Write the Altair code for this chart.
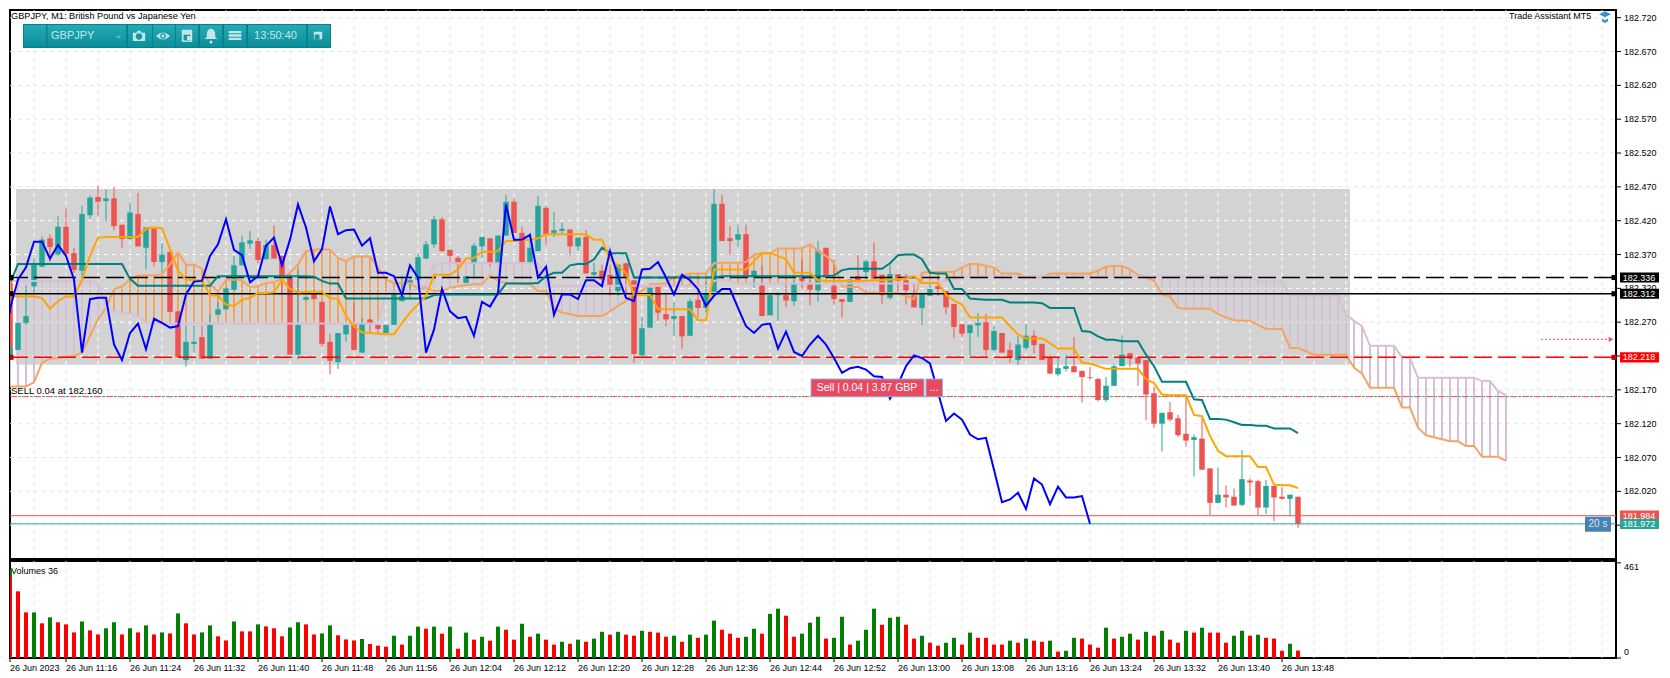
import altair as alt
import pandas as pd

# Prices are kept as points (thousandths) above 182.000
opens = [328,218,229,269,323,352,394,370,411,372,
346,428,455,449,453,414,393,430,380,410,
359,374,286,214,238,248,216,281,289,318,
354,386,390,363,384,368,336,222,303,313,
300,241,211,252,267,225,274,266,254,266,
301,328,333,364,385,422,377,365,328,357,
382,394,357,398,448,402,359,375,439,402,
405,407,382,396,340,346,340,316,357,332,
221,262,323,282,275,279,250,303,291,315,
445,394,392,400,338,324,280,310,310,301,
336,326,317,380,324,304,300,338,344,360,
340,306,341,332,310,291,309,323,316,297,
267,254,265,270,229,254,229,214,232,250,
238,218,193,201,205,198,189,186,155,176,
205,224,218,214,165,120,137,128,105,96,
98,54,3,15,12,0,36,35,-4,28,
12,9,12]
highs = [335,232,269,324,365,397,400,427,438,380,
442,457,472,466,470,414,447,461,410,410,
387,374,286,265,265,265,282,300,321,368,
398,405,395,392,413,368,338,348,308,318,
300,253,254,266,299,276,274,266,266,318,
339,338,372,390,427,425,377,368,338,387,
396,394,398,458,452,411,402,456,441,433,
417,407,395,406,358,355,355,355,357,332,
278,321,323,311,299,279,305,318,329,467,
458,412,414,414,346,353,310,314,328,332,
363,333,390,380,363,304,333,370,363,388,
340,355,341,341,326,311,326,338,316,297,
267,266,283,282,264,254,240,250,267,258,
238,222,218,222,248,198,204,188,189,208,
250,224,220,214,174,136,152,133,161,104,
129,54,55,29,24,81,39,37,37,28,
26,15,12]
lows = [215,218,229,266,314,351,359,368,368,343,
333,423,428,418,406,380,392,382,348,352,
343,285,218,204,225,216,216,281,289,317,
354,378,357,363,364,313,222,215,303,304,
233,193,201,241,229,225,254,254,254,266,
301,306,331,363,380,374,357,328,328,336,
365,353,357,398,402,357,357,375,384,396,
401,368,375,342,338,323,309,309,305,210,
218,261,272,264,250,231,249,277,284,314,
390,369,382,338,321,279,280,272,292,294,
318,295,300,336,296,277,300,326,333,334,
297,303,316,296,291,266,309,309,282,247,
248,219,248,217,227,225,210,207,229,224,
214,194,190,197,196,151,185,153,152,176,
205,204,176,125,114,79,123,100,86,42,
52,-15,2,-4,-1,-2,13,-16,-14,-24,
8,-17,-34]
closes = [218,232,269,279,356,392,381,411,371,347,
430,454,448,453,412,393,432,382,410,359,
370,285,218,241,241,216,266,289,320,354,
388,391,362,384,364,336,222,266,307,304,
238,213,254,266,229,268,268,260,266,311,
309,332,366,385,422,375,368,357,338,383,
396,357,398,448,402,359,380,442,399,406,
408,382,395,342,344,333,324,355,336,223,
261,321,284,274,279,249,301,291,313,445,
390,390,400,338,346,279,310,312,302,326,
331,318,376,336,304,300,333,332,360,334,
310,341,331,317,292,311,319,319,292,263,
253,266,269,229,257,225,218,237,250,236,
214,194,202,205,196,189,188,155,176,205,
222,216,209,163,120,136,126,103,95,100,
52,3,15,11,-1,38,33,-4,28,11,
9,15,-28]
tenkan = [331,309,308,308,308,306,290,301,308,308,333,368,395,396,396,396,396,396,408,410,
409,378,346,333,332,332,310,309,296,294,303,306,313,313,314,333,319,314,315,315,
315,305,305,279,264,255,254,253,252,252,269,284,296,309,340,340,340,348,364,365,
374,374,375,390,390,391,392,394,400,400,400,400,400,400,392,392,363,353,343,310,
310,310,289,289,289,289,289,273,273,348,348,348,348,348,360,372,372,368,363,343,
343,343,332,331,331,331,331,331,331,332,332,333,333,335,338,328,328,328,311,302,
296,277,277,277,277,277,264,252,246,246,246,239,231,231,231,210,209,205,201,201,
201,201,201,186,180,163,162,162,162,133,131,102,80,72,72,72,72,56,56,30,
29,29,25]
kijun = [326,327,356,356,356,356,356,356,356,356,356,356,356,356,356,356,334,324,324,324,
324,324,324,324,324,324,324,338,338,338,338,338,338,338,338,338,338,338,338,337,
331,327,327,305,305,305,305,305,305,305,305,305,305,305,310,311,311,311,311,311,
311,311,311,327,327,327,327,328,338,343,343,354,356,356,363,380,372,372,372,336,
336,336,336,336,336,336,336,336,336,336,338,338,338,338,338,338,338,338,338,338,
338,338,338,338,339,347,349,349,349,349,349,357,369,370,370,363,343,342,342,319,
319,305,304,303,303,303,299,299,299,299,298,291,291,291,291,257,256,249,244,244,
242,242,242,222,205,182,182,182,182,156,155,127,127,126,122,118,118,117,117,113,
113,113,106]
chikou = [283,290,333,351,389,389,364,384,368,333,225,304,306,306,237,214,254,268,230,275,
269,262,264,311,330,331,368,385,422,377,369,329,338,383,395,354,392,444,410,360,
378,441,400,406,407,383,394,343,343,338,310,354,336,225,259,319,286,276,278,250,
300,293,313,444,392,392,399,336,352,281,311,311,304,332,332,323,375,338,306,301,
348,349,359,336,311,340,332,319,294,309,319,319,291,264,254,266,268,231,256,226,
220,237,250,237,217,195,202,204,200,190,189,157,178,205,221,217,209,166,124,135,
126,104,97,99,52,4,8,18,-6,39,30,1,27,11,11,13,-28]
span_a = [175,175,175,175,181,210,216,217,219,220,225,250,274,291,319,323,333,339,339,339,
341,355,373,355,355,349,326,316,332,333,332,322,323,328,329,334,343,355,375,377,
378,377,365,360,367,367,367,351,333,328,328,328,319,321,316,316,321,323,325,326,
326,339,331,328,328,327,326,316,316,291,284,282,279,279,279,279,286,294,301,314,
316,326,326,328,337,339,342,342,342,357,358,358,358,359,370,372,372,379,379,379,
379,385,375,368,358,323,322,322,314,313,313,313,313,309,304,343,344,344,344,344,
351,356,356,353,351,342,342,342,337,336,336,342,342,342,342,342,342,346,352,353,
353,348,340,336,331,311,308,291,290,290,290,290,282,277,273,272,272,266,260,260,
260,232,232,227,222,222,222,222,222,203,194,173,173,173,173,144,144,114,103,100,
97,94,94,87,87,71,71,71,65]
span_b = [331,331,331,331,331,331,331,331,331,331,331,331,328,291,286,284,282,279,269,268,
268,268,268,268,268,268,268,268,268,268,268,268,268,268,268,268,268,268,268,268,
268,268,268,268,268,268,268,268,314,316,316,316,319,326,355,357,357,357,357,357,
357,357,357,357,357,357,357,357,338,324,324,324,324,324,324,324,324,324,324,324,
324,324,324,324,324,324,324,324,324,331,333,331,327,327,327,327,327,327,327,327,
327,327,327,327,327,327,327,327,327,327,327,327,327,327,327,327,330,330,331,333,
337,338,338,338,338,338,338,338,338,338,338,338,338,338,338,338,338,338,338,338,
338,338,338,338,338,338,338,338,338,338,338,338,338,338,338,338,338,330,330,330,
330,310,309,309,309,309,309,309,282,272,264,235,235,235,235,218,217,188,188,188,
188,188,188,188,188,183,183,168,162]
volumes = [429,395,323,221,221,168,197,173,163,124,177,134,114,144,173,114,144,124,158,114,
124,119,216,168,114,124,158,105,85,177,129,129,163,153,144,105,148,173,163,114,
119,158,110,90,85,92,68,60,55,108,65,108,152,142,152,118,152,45,123,89,
103,84,152,137,89,166,103,118,89,65,79,69,89,79,94,127,113,127,113,108,
132,127,123,103,108,79,113,98,113,181,137,118,98,103,142,118,214,239,205,103,
118,171,200,94,98,200,65,84,137,239,161,195,200,161,94,108,74,60,74,98,
65,123,98,98,65,65,84,74,94,84,79,84,31,35,98,94,65,50,147,94,
103,118,89,127,108,132,89,74,132,123,147,123,123,74,108,132,108,113,98,94,
35,69,36]
vol_dirs = list("GRRRGRGRRRGRRGGRGRGRGRGRRGGRRGRRGRRRGGRRGGRRR"
                "GRRRGRGGRGRGRGRGRGRRGRGRRGRGRGGRGRRGRRRGRGR"
                "GGRRRGGRGGRRGGGRGGRGGGRGGRRGRRGGRGRRRRGRGRRGRGGRRRGRGGRGRGRRGRGRRRGGRGRRRGR")
time_labels = ["26 Jun 2023","26 Jun 11:16","26 Jun 11:24","26 Jun 11:32","26 Jun 11:40","26 Jun 11:48",
               "26 Jun 11:56","26 Jun 12:04","26 Jun 12:12","26 Jun 12:20","26 Jun 12:28","26 Jun 12:36",
               "26 Jun 12:44","26 Jun 12:52","26 Jun 13:00","26 Jun 13:08","26 Jun 13:16","26 Jun 13:24",
               "26 Jun 13:32","26 Jun 13:40","26 Jun 13:48"]
time_ticks = list(range(0, 168, 8))
price_ticks = [182.72,182.67,182.62,182.57,182.52,182.47,182.42,182.37,182.32,182.27,182.22,182.17,182.12,182.07,182.02,181.97]
level_sl = 182.336
level_bid = 182.312
level_tp = 182.218
level_entry = 182.160
level_ask = 181.984
level_last = 181.972

FONT = "Liberation Sans"
TEAL, RED = "#26A69A", "#EF5350"
P = lambda v: 182 + v / 1000
def bar(px):      # annotation helper: page pixel -> bar coordinate
    return (px - 2) / 8
def price(py):    # annotation helper: page pixel -> price coordinate
    return 182.72 - (py - 16.7) / 676.6

W, H, VH = 1606, 549, 97
xs = alt.Scale(domain=[1.0, 201.75], clamp=True, nice=False, zero=False)
ys = alt.Scale(domain=[181.92, price(9)], nice=False, zero=False)
X = alt.X("x:Q", scale=xs, axis=None)
Y = alt.Y("y:Q", scale=ys, axis=None)
X2, Y2 = alt.X2("x2:Q"), alt.Y2("y2:Q")

def frame(**k):
    return pd.DataFrame(k)

def txt(px, py, text, size=9, color="black", align="left"):
    return alt.Chart(frame(x=[bar(px)], y=[price(py)], t=[text])).mark_text(
        align=align, baseline="middle", font=FONT, fontSize=size, color=color
    ).encode(x=X, y=Y, text="t:N")

candles = frame(x=list(range(163)), o=[P(v) for v in opens], h=[P(v) for v in highs],
                l=[P(v) for v in lows], c=[P(v) for v in closes])
candles["col"] = [TEAL if c >= o else RED for o, c in zip(opens, closes)]
colz = alt.Color("col:N", scale=None)

cloud = frame(x=list(range(189)), a=[P(v) for v in span_a], b=[P(v) for v in span_b])
cloud["col"] = ["#F4A460" if a >= b else "#D8BFD8" for a, b in zip(span_a, span_b)]

def line(df, field, color, w=2):
    return alt.Chart(df).mark_line(color=color, strokeWidth=w, interpolate="linear", clip=True).encode(
        x=X, y=alt.Y(field + ":Q", scale=ys, axis=None))

main_lines = frame(x=list(range(163)), t=[P(v) for v in tenkan], k=[P(v) for v in kijun])
blue = frame(x=list(range(137)), v=[P(v) for v in chikou])

price_df = frame(y=price_ticks, t=["%.3f" % p for p in price_ticks])
gridY = alt.Chart(price_df).mark_rule(color="#E6E6E6", strokeDash=[4, 4], strokeWidth=1).encode(
    x=alt.value(0), x2=alt.value(W), y=Y)
tickY = alt.Chart(price_df).mark_rule(color="black", strokeWidth=1).encode(
    x=alt.value(W), x2=alt.value(W + 5), y=Y)
labelY = alt.Chart(price_df).mark_text(font=FONT, fontSize=9, align="left", baseline="middle", color="black").encode(
    x=alt.value(W + 8), y=Y, text="t:N")
vgrid_x = list(range(4, 204, 4))
gridX = alt.Chart(frame(x=vgrid_x)).mark_rule(color="#E6E6E6", strokeDash=[4, 4], strokeWidth=1).encode(
    x=X, y=alt.value(0), y2=alt.value(H))

rect_l, rect_r, rect_b, rect_t = 1.75, 168.5, P(207), P(467)
box = alt.Chart(frame(x=[rect_l], x2=[rect_r], y=[rect_b], y2=[rect_t])).mark_rect(color="#D3D3D3").encode(
    x=X, x2=X2, y=Y, y2=Y2)
inner_v = [v for v in vgrid_x if rect_l < v < rect_r]
whiteV = alt.Chart(frame(x=inner_v, y=[rect_b] * len(inner_v), y2=[rect_t] * len(inner_v))).mark_rule(
    color="white", strokeDash=[4, 4], strokeWidth=1).encode(x=X, y=Y, y2=Y2)
inner_h = [p for p in price_ticks if rect_b < p < rect_t]
whiteH = alt.Chart(frame(y=inner_h, x=[rect_l] * len(inner_h), x2=[rect_r] * len(inner_h))).mark_rule(
    color="white", strokeDash=[4, 4], strokeWidth=1).encode(x=X, x2=X2, y=Y)

hatch = alt.Chart(cloud).mark_rule(strokeWidth=2, clip=True).encode(
    x=X, y=alt.Y("a:Q", scale=ys, axis=None), y2=alt.Y2("b:Q"), color=colz)
wicks = alt.Chart(candles).mark_rule(strokeWidth=1, clip=True).encode(
    x=X, y=alt.Y("l:Q", scale=ys, axis=None), y2=alt.Y2("h:Q"), color=colz)
bodies = alt.Chart(candles).mark_rule(strokeWidth=5.5, clip=True).encode(
    x=X, y=alt.Y("o:Q", scale=ys, axis=None), y2=alt.Y2("c:Q"), color=colz)

def hline(p, color, w=1, dash=None, offset=None):
    kw = dict(color=color, strokeWidth=w)
    if dash:
        kw["strokeDash"] = dash
    if offset is not None:
        kw["strokeDashOffset"] = offset
    return alt.Chart(frame(y=[p])).mark_rule(**kw).encode(x=alt.value(0), x2=alt.value(W), y=Y)

tags = frame(y=[level_sl, level_bid, level_tp, level_ask, level_last],
             t=["182.336", "182.312", "182.218", "181.984", "181.972"],
             col=["black", "black", "#FF0000", RED, TEAL])
tags["y0"] = tags["y"] - 0.0075
tags["y1"] = tags["y"] + 0.0075
tag_box = alt.Chart(tags).mark_rect().encode(
    x=alt.value(W + 4), x2=alt.value(W + 43), y=alt.Y("y0:Q", scale=ys, axis=None), y2=alt.Y2("y1:Q"), color=colz)
tag_txt = alt.Chart(tags).mark_text(font=FONT, fontSize=9, color="white", align="center", baseline="middle").encode(
    x=alt.value(W + 23), y=Y, text="t:N")

squares = frame(y=[level_sl, level_bid, level_tp], col=["black", "black", "#CC0000"])
sq_r = alt.Chart(squares).mark_square(size=26, opacity=1).encode(x=alt.value(W - 2), y=Y, color=colz)
sq_l = alt.Chart(squares).mark_square(size=26, opacity=1, clip=True).encode(x=alt.value(1), y=Y, color=colz)

arrow = alt.Chart(frame(x=[bar(1541)], x2=[bar(1610)], y=[P(244.7)])).mark_rule(
    color=RED, strokeDash=[2, 2], strokeWidth=1).encode(x=X, x2=X2, y=Y)
arrow_head = alt.Chart(frame(x=[bar(1611)], y=[P(244.7)])).mark_point(
    shape="triangle-right", filled=True, size=28, color=RED, opacity=1).encode(x=X, y=Y)

# Toolbar and order panel
bar_bg = alt.Chart(frame(x=[bar(23)], x2=[bar(331)], y=[price(47)], y2=[price(23)])).mark_rect(
    color="#0B7F8C").encode(x=X, x2=X2, y=Y, y2=Y2)
cells_l = [24, 47.5, 128, 153, 176, 200, 224, 248, 308]
cells_r = [46, 126, 152, 175, 198, 222, 246, 306, 330]
cells = alt.Chart(frame(x=[bar(v) for v in cells_l], x2=[bar(v) for v in cells_r],
                        y=[price(46)] * 9, y2=[price(24)] * 9)).mark_rect(
    color=alt.Gradient(gradient="linear", stops=[alt.GradientStop(color="#22ABB6", offset=0),
                                                 alt.GradientStop(color="#0E8E9A", offset=1)],
                       x1=0, x2=0, y1=0, y2=1)).encode(x=X, x2=X2, y=Y, y2=Y2)
LIGHT, DARK = "#C4E6E9", "#1398A4"
icons = [
    (139, 35, "M-1,-.55L-.4,-.55L-.25,-.85L.25,-.85L.4,-.55L1,-.55L1,.8L-1,.8Z", 150, LIGHT),
    (139, 35.5, "circle", 40, DARK),
    (163, 35, "M-1,0Q0,-1,1,0Q0,1,-1,0Z", 200, LIGHT),
    (163, 35, "circle", 32, DARK),
    (163, 35, "circle", 10, LIGHT),
    (187, 35, "M-.8,-.95L.8,-.95L.8,.9L-.8,.9Z", 170, LIGHT),
    (187, 36, "M-.6,-.4L.6,-.4L.6,.6L-.6,.6Z", 130, DARK),
    (189, 37, "M-1,-1L1,-1L1,1L-1,1Z", 16, LIGHT),
    (211, 34, "M0,-1Q.65,-.8,.65,-.1L.65,.35L1,.6L-1,.6L-.65,.35L-.65,-.1Q-.65,-.8,0,-1Z", 170, LIGHT),
    (211, 41, "circle", 9, LIGHT),
    (235, 34.5, "M-1,-.7L1,-.7L1,-.35L-1,-.35ZM-1,-.18L1,-.18L1,.18L-1,.18ZM-1,.35L1,.35L1,.7L-1,.7Z", 160, LIGHT),
    (318, 34.5, "M-1,-.9L1,-.9L1,.9L-1,.9Z", 70, LIGHT),
    (317.5, 35.5, "M-1,-.7L.7,-.7L.7,1L-1,1Z", 32, DARK),
    (118.5, 36, "M-1,-.4L-.7,-.7L0,0L.7,-.7L1,-.4L0,.6Z", 22, "#7CC6CD"),
    (1605, 15, "M-1,-.3L0,-.8L1,-.3L0,.2Z", 140, "#3A8FC9"),
    (1605, 17.5, "M-.55,0L0,.3L.55,0L.55,.5L0,.8L-.55,.5Z", 120, "#3A8FC9"),
]
icon_df = frame(x=[bar(v[0]) for v in icons], y=[price(v[1]) for v in icons],
                s=[v[2] for v in icons], sz=[v[3] for v in icons], col=[v[4] for v in icons])
icon_layer = alt.Chart(icon_df).mark_point(filled=True, opacity=1, strokeWidth=0).encode(
    x=X, y=Y, shape=alt.Shape("s:N", scale=None), size=alt.Size("sz:Q", scale=None), color=colz)

sell_df = frame(x=[bar(811), bar(926)], x2=[bar(924), bar(942.5)], y=[price(395.7)] * 2, y2=[price(378)] * 2)
sell_box = alt.Chart(sell_df).mark_rect(color="#E94A62", stroke="#8FB5DC", strokeWidth=1).encode(
    x=X, x2=X2, y=Y, y2=Y2)
twenty = alt.Chart(frame(x=[bar(1585)], x2=[bar(1611)], y=[price(530.7)], y2=[price(515.7)])).mark_rect(
    color="#4682B4").encode(x=X, x2=X2, y=Y, y2=Y2)

main = alt.layer(
    gridY, gridX, box, whiteV, whiteH,
    hatch,
    wicks, bodies,
    line(cloud, "a", "#F4A460"), line(cloud, "b", "#D8BFD8"),
    hline(level_entry, TEAL, dash=[3, 9], offset=-8), hline(level_entry, RED, dash=[7, 5]),
    hline(level_sl, "black", 1.5, [18, 6]), hline(level_bid, "black", 1.5), hline(level_tp, "#FF0000", 1.5, [18, 6]),
    hline(level_ask, RED), hline(level_last, TEAL),
    line(main_lines, "k", "#008080"), line(main_lines, "t", "#FFA500"), line(blue, "v", "#0000FF"),
    arrow, arrow_head, tickY, labelY, tag_box, tag_txt, sq_l, sq_r,
    sell_box,
    txt(867, 386.8, "Sell | 0.04 | 3.87 GBP", 10.5, "white", "center"),
    txt(934, 386.5, "...", 10.5, "white", "center"),
    twenty, txt(1598, 523, "20 s", 10, "#D6E6F2", "center"),
    bar_bg, cells, icon_layer,
    txt(51, 35, "GBPJPY", 11, LIGHT), txt(275.5, 35, "13:50:40", 11, LIGHT, "center"),
    txt(11, 15, "GBPJPY, M1:  British Pound vs Japanese Yen", 9.2),
    txt(11, 390, "SELL 0.04 at 182.160", 9.5),
    txt(1509, 15, "Trade Assistant MT5", 9),
).properties(width=W, height=H)

# Volume pane
vol_df = frame(x=list(range(163)), v=volumes, col=["#008000" if d == "G" else "#FF0000" for d in vol_dirs])
vs = alt.Scale(domain=[0, 470], nice=False, zero=False)
vY = alt.Y("v:Q", scale=vs, axis=None)
vgrid = alt.Chart(frame(x=vgrid_x)).mark_rule(color="#E6E6E6", strokeDash=[4, 4], strokeWidth=1).encode(
    x=X, y=alt.value(0), y2=alt.value(VH))
vbars = alt.Chart(vol_df).mark_rule(strokeWidth=4, clip=True).encode(
    x=X, y=vY, y2=alt.datum(0), color=colz)
time_df = frame(x=time_ticks, t=time_labels)
time_tick = alt.Chart(time_df).mark_rule(color="black", strokeWidth=1).encode(
    x=X, y=alt.value(VH), y2=alt.value(VH + 4))
time_text = alt.Chart(time_df).mark_text(
    font=FONT, fontSize=9, align="left", baseline="middle", color="black").encode(
    x=X, y=alt.value(VH + 10), text="t:N")
vol_ticks = alt.Chart(frame(v=[0, 461])).mark_rule(color="black", strokeWidth=1).encode(
    x=alt.value(W), x2=alt.value(W + 5), y=vY)
vol_text = alt.Chart(frame(t=["461", "0"], v=[441, 30])).mark_text(
    font=FONT, fontSize=9, align="left", baseline="middle", color="black").encode(
    x=alt.value(W + 8), y=vY, text="t:N")
vol_name = alt.Chart(frame(t=["Volumes 36"])).mark_text(
    font=FONT, fontSize=9, align="left", baseline="middle", color="black").encode(
    x=alt.value(1), y=alt.value(10), text="t:N")
vol = alt.layer(vgrid, vbars, time_tick, time_text, vol_ticks, vol_text, vol_name).properties(width=W, height=VH)

chart = alt.vconcat(main, vol, spacing=2, bounds="flush").properties(
    padding=0, background="white"
).configure_view(stroke="black", strokeWidth=2)

chart.save("out.html", embed_options={"renderer": "svg", "actions": False})
